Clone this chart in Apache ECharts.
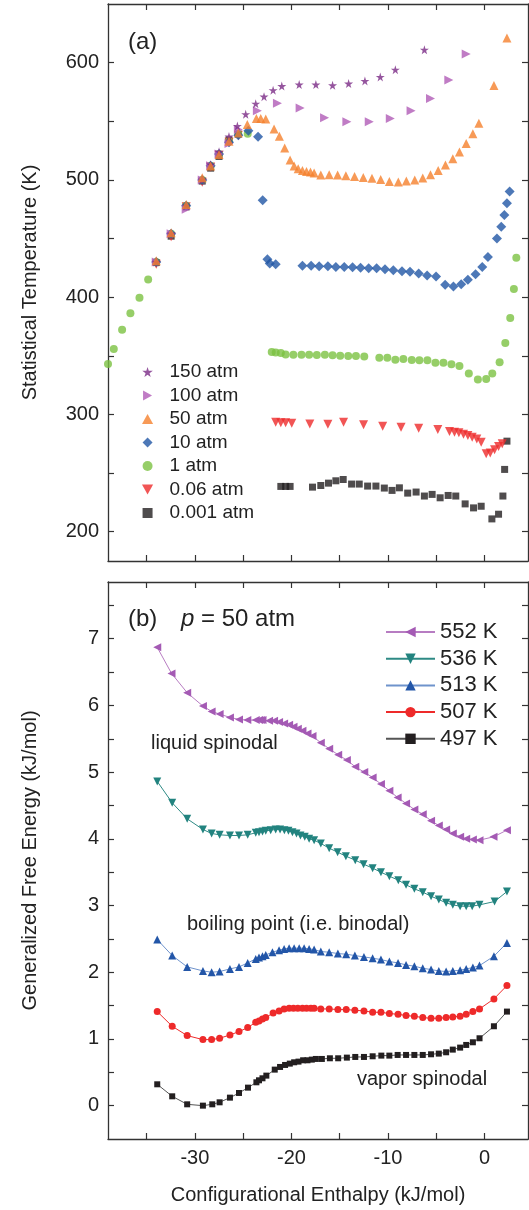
<!DOCTYPE html>
<html>
<head>
<meta charset="utf-8">
<script src="https://cdn.jsdelivr.net/npm/echarts@6.0.0/dist/echarts.min.js"></script>
<style>
  html, body { margin: 0; padding: 0; background: #fff; }
  #chart { width: 529px; height: 1210px; }
</style>
</head>
<body>
<div id="chart"></div>
<script>
// ticks and labels
const xTicks = [-35, -30, -25, -20, -15, -10, -5, 0];
const xLabels = [-30, -20, -10, 0];
const tTicks = [200, 250, 300, 350, 400, 450, 500, 550, 600];
const tLabels = [200, 300, 400, 500, 600];
const gTicks = [0, 0.5, 1, 1.5, 2, 2.5, 3, 3.5, 4, 4.5, 5, 5.5, 6, 6.5, 7, 7.5];
const gLabels = [0, 1, 2, 3, 4, 5, 6, 7];

// (a) statistical temperature, [enthalpy, T]
const p150 = [[-34.0,430],[-32.46,454],[-30.9,478],[-29.24,500],[-28.37,513],[-27.5,524],[-26.47,537],[-25.6,546],[-24.74,556],
  [-23.7,565],[-22.84,571],[-21.9,576.5],[-21.0,580],[-19.2,581.3],[-17.47,581.3],[-15.74,580.7],[-14.08,582.1],[-12.39,584.4],
  [-10.8,587.8],[-9.24,594],[-6.23,611]];
const p100 = [[-34.0,430],[-32.46,454],[-30.9,475],[-29.24,500],[-28.37,512],[-27.5,522],[-26.47,531],[-25.5,543],[-23.53,559],
  [-21.45,565.4],[-19.1,561.4],[-16.57,553],[-14.26,549.5],[-11.94,549.5],[-9.76,552.3],[-7.61,559],[-5.6,569.4],[-3.7,585.2],[-1.9,607.4]];
const p50 = [[-34.0,431],[-32.46,455],[-30.9,479],[-29.24,501.8],[-28.37,511.8],[-27.5,521.7],[-26.47,533],[-25.5,540],[-24.57,547.2],
  [-23.63,552.3],[-23.18,552.3],[-22.66,552],[-21.8,543.5],[-21.25,537.3],[-20.7,527.1],[-20.14,516.9],[-19.72,511.8],[-19.3,509.5],
  [-18.86,508.1],[-18.44,507.2],[-18.03,506.7],[-17.65,505.8],[-16.96,504.1],[-16.09,504.4],[-15.22,504.1],[-14.36,503.5],[-13.46,503],
  [-12.56,502.1],[-11.66,501.3],[-10.76,500.4],[-9.86,498.7],[-8.93,498.2],[-8.1,499],[-7.23,499.9],[-6.4,501.6],[-5.6,504.4],
  [-4.8,508.1],[-4.05,512.6],[-3.29,518],[-2.6,523.7],[-1.9,531.1],[-1.21,539.3],[-0.59,548.4],[0.97,580.4],[2.32,621]];
const p10 = [[-34.0,430],[-32.46,454],[-30.9,478],[-29.24,500],[-28.37,512],[-27.5,522],[-26.47,532],[-25.5,538],[-24.46,542],
  [-23.46,536.7],[-22.98,482.6],[-22.49,432.3],[-22.25,428.6],[-21.63,428.1],[-18.86,426.7],[-17.96,426.7],[-17.13,426.4],[-16.23,426.4],
  [-15.4,425.8],[-14.53,425.8],[-13.67,425.5],[-12.84,425],[-12.0,424.7],[-11.18,424.7],[-10.31,423.8],[-9.45,423],[-8.55,422.1],
  [-7.72,421.6],[-6.82,420.1],[-5.95,418.4],[-5.02,417.6],[-4.08,410.5],[-3.22,409.1],[-2.42,411.1],[-1.73,414.8],[-0.93,419.6],
  [-0.24,425.8],[0.35,434.3],[1.28,450],[1.73,460],[2.05,470],[2.32,480],[2.6,490]];
const p1 = [[-39.0,343],[-38.4,355.8],[-37.54,372.3],[-36.68,386.2],[-35.74,399.6],[-34.84,415],[-34.0,430],[-32.46,454],[-30.9,478],
  [-29.24,500],[-28.37,512],[-27.5,522],[-26.47,533],[-25.5,539],[-24.53,539.3],[-22.04,353.2],[-21.63,352.9],[-21.1,352.3],[-20.6,351.2],
  [-19.8,350.9],[-18.96,350.9],[-18.17,350.9],[-17.37,350.6],[-16.54,350.9],[-15.74,350.4],[-14.95,350.1],[-14.12,349.8],[-13.32,349.8],
  [-12.46,349.5],[-10.9,348.4],[-10.07,348.4],[-9.24,346.7],[-8.41,347.2],[-7.54,346.4],[-6.75,346.1],[-5.92,346.1],[-5.09,344.1],
  [-4.26,344.1],[-3.43,342.7],[-2.6,341.3],[-1.63,335],[-0.69,329.8],[0.17,330.2],[0.8,335],[1.56,344.4],[2.15,360.9],[2.66,382.2],
  [3.04,406.9],[3.29,433.5]];
const p006 = [[-34.0,428],[-32.46,451.6],[-30.9,477],[-29.24,498],[-28.37,511],[-27.5,521],[-26.47,532],[-25.5,538],[-21.63,293.3],
  [-21.1,292.8],[-20.6,292.8],[-19.97,292.5],[-18.1,291.9],[-16.23,291.6],[-14.6,293.3],[-12.53,291.1],[-10.55,289.9],[-8.65,289.1],
  [-6.82,288.2],[-4.84,287.1],[-3.63,285.4],[-3.11,284.8],[-2.66,284.3],[-2.18,283.1],[-1.73,282],[-1.28,280.6],[-0.8,279.1],
  [-0.35,276.3],[0.17,266.4],[0.59,267.2],[1.04,269.8],[1.45,272.6],[1.83,274.9]];
const p0001 = [[-34.0,429.5],[-32.46,452],[-30.9,477],[-29.24,499],[-28.37,510],[-27.5,520],[-26.47,534],[-25.5,539],[-21.1,238.6],
  [-20.6,238.6],[-20.14,238.6],[-17.82,238],[-16.96,239.4],[-16.16,241.4],[-15.4,243.4],[-14.64,244.5],[-13.77,240.6],[-12.98,240.6],
  [-12.11,238.9],[-11.25,238.9],[-10.38,237.2],[-9.58,235.2],[-8.82,237.4],[-7.96,232.9],[-7.09,233.8],[-6.23,230.4],[-5.43,231.8],
  [-4.6,228.9],[-3.77,230.9],[-2.98,230.4],[-2.01,223.7],[-1.14,220.3],[-0.35,221.7],[0.76,210.9],[1.45,214.9],[1.9,230.4],
  [2.08,253.1],[2.32,277.2]];

// (b) generalized free energy at 50 atm, [enthalpy, G]
const k552 = [[-33.9,6.87],[-32.42,6.48],[-30.8,6.19],[-29.17,5.99],[-28.27,5.91],[-27.44,5.87],[-26.37,5.82],[-25.43,5.79],[-24.57,5.78],
  [-23.7,5.78],[-23.36,5.78],[-23.18,5.78],[-23.0,5.78],[-22.32,5.77],[-21.8,5.77],[-21.28,5.75],[-20.76,5.73],[-20.24,5.71],[-19.79,5.68],
  [-19.34,5.65],[-18.86,5.62],[-18.34,5.58],[-17.82,5.54],[-16.96,5.44],[-16.09,5.35],[-15.16,5.26],[-14.26,5.18],[-13.39,5.08],
  [-12.46,5.0],[-11.59,4.92],[-10.73,4.82],[-9.86,4.72],[-9.0,4.62],[-8.13,4.53],[-7.27,4.44],[-6.4,4.37],[-5.54,4.27],[-4.74,4.2],
  [-3.98,4.14],[-3.29,4.08],[-2.53,4.03],[-1.9,4.0],[-1.21,3.99],[-0.52,3.98],[0.93,4.03],[2.32,4.13]];
const k536 = [[-33.9,4.86],[-32.35,4.54],[-30.8,4.3],[-29.17,4.14],[-28.27,4.08],[-27.44,4.06],[-26.37,4.05],[-25.43,4.05],[-24.53,4.06],
  [-23.7,4.09],[-23.36,4.1],[-23.0,4.11],[-22.66,4.12],[-22.15,4.13],[-21.63,4.14],[-21.18,4.14],[-20.73,4.13],[-20.31,4.12],[-19.9,4.1],
  [-19.48,4.08],[-19.07,4.05],[-18.62,4.03],[-18.17,4.0],[-17.65,3.98],[-16.96,3.93],[-16.09,3.86],[-15.22,3.8],[-14.36,3.74],
  [-13.39,3.68],[-12.53,3.62],[-11.59,3.56],[-10.73,3.5],[-9.86,3.44],[-8.93,3.38],[-8.13,3.31],[-7.27,3.25],[-6.4,3.2],[-5.54,3.14],
  [-4.74,3.09],[-3.98,3.04],[-3.29,3.01],[-2.53,2.99],[-1.9,2.99],[-1.28,2.99],[-0.52,3.01],[1.04,3.06],[2.32,3.21]];
const k513 = [[-33.9,2.49],[-32.35,2.25],[-30.8,2.08],[-29.17,2.02],[-28.27,2.0],[-27.44,2.01],[-26.37,2.05],[-25.43,2.08],[-24.53,2.14],
  [-23.7,2.2],[-23.36,2.22],[-23.0,2.24],[-22.66,2.26],[-21.97,2.3],[-21.28,2.33],[-20.76,2.35],[-20.24,2.36],[-19.72,2.36],[-19.2,2.36],
  [-18.69,2.36],[-18.17,2.35],[-17.65,2.34],[-16.96,2.31],[-16.09,2.3],[-15.19,2.28],[-14.33,2.27],[-13.43,2.25],[-12.49,2.23],
  [-11.59,2.21],[-10.73,2.19],[-9.86,2.16],[-8.96,2.14],[-8.13,2.11],[-7.27,2.09],[-6.4,2.06],[-5.54,2.04],[-4.74,2.02],[-3.98,2.01],
  [-3.29,2.02],[-2.53,2.03],[-1.9,2.05],[-1.21,2.07],[-0.52,2.1],[0.97,2.24],[2.32,2.44]];
const k507 = [[-33.9,1.41],[-32.35,1.19],[-30.8,1.05],[-29.17,0.99],[-28.27,0.99],[-27.44,1.01],[-26.37,1.06],[-25.43,1.11],[-24.53,1.17],
  [-23.7,1.25],[-23.36,1.27],[-23.0,1.3],[-22.66,1.32],[-21.9,1.39],[-21.28,1.42],[-20.76,1.45],[-20.24,1.46],[-19.79,1.46],[-19.34,1.46],
  [-18.86,1.46],[-18.44,1.46],[-17.99,1.46],[-17.65,1.46],[-16.96,1.45],[-16.09,1.45],[-15.19,1.44],[-14.33,1.44],[-13.43,1.43],
  [-12.49,1.42],[-11.59,1.4],[-10.73,1.4],[-9.86,1.38],[-8.96,1.37],[-8.13,1.35],[-7.27,1.34],[-6.4,1.32],[-5.54,1.31],[-4.74,1.31],
  [-3.98,1.32],[-3.29,1.33],[-2.53,1.34],[-1.9,1.37],[-1.21,1.41],[-0.52,1.45],[0.97,1.6],[2.32,1.8]];
const k497 = [[-33.9,0.32],[-32.35,0.14],[-30.8,0.02],[-29.17,0.0],[-28.2,0.02],[-27.44,0.05],[-26.37,0.12],[-25.43,0.19],[-24.5,0.27],
  [-23.63,0.35],[-23.36,0.38],[-23.0,0.41],[-22.6,0.45],[-21.73,0.54],[-21.18,0.58],[-20.66,0.61],[-20.17,0.63],[-19.72,0.65],
  [-19.27,0.66],[-18.79,0.68],[-18.34,0.68],[-17.89,0.69],[-17.47,0.7],[-16.85,0.7],[-16.02,0.71],[-15.16,0.71],[-14.26,0.72],
  [-13.39,0.73],[-12.49,0.73],[-11.59,0.74],[-10.69,0.75],[-9.86,0.75],[-9.0,0.76],[-8.13,0.76],[-7.27,0.76],[-6.4,0.76],[-5.54,0.77],
  [-4.74,0.78],[-3.98,0.8],[-3.29,0.84],[-2.53,0.87],[-1.9,0.91],[-1.21,0.95],[-0.52,1.01],[0.97,1.19],[2.32,1.41]];

const FONT = "'Liberation Sans', Arial, Helvetica, sans-serif";
const INK = "#222";
// path symbols keep their aspect in the legend
const STAR = "path://M50,0 L61,35 L98,35 L68,57 L79,91 L50,70 L21,91 L32,57 L2,35 L39,35 Z";
const TRI_U = "path://M5,0 L10,9 L0,9 Z";
const TRI_R = "path://M0,0 L9,5 L0,10 Z";
const TRI_L = "path://M9,0 L0,5 L9,10 Z";
const TRI_D = "path://M0,0 L10,0 L5,9 Z";
const DIAM = "path://M5,0 L10,5 L5,10 L0,5 Z";
const SQ = "path://M0,0 L10,0 L10,10 L0,10 Z";

let chart = echarts.init(document.getElementById("chart"));

function frameAxis(grid, pos, ticks, labels, extra) {
  let ax = {
    gridIndex: grid,
    position: pos,
    type: "value",
    axisLine: { show: true, onZero: false, lineStyle: { color: "#333", width: 1.3 } },
    axisTick: { show: true, inside: true, length: 6, customValues: ticks, lineStyle: { color: "#333", width: 1.2 } },
    axisLabel: labels
      ? { show: true, customValues: labels, color: INK, fontSize: 20, fontFamily: FONT, margin: 9 }
      : { show: false },
    splitLine: { show: false }
  };
  return Object.assign(ax, extra);
}

const xr = { min: -39, max: 4.5 };
const ar = { min: 175, max: 650 };
const br = { min: -0.5, max: 7.85 };

function scat(name, data, symbol, size, color) {
  return {
    name: name, type: "scatter", xAxisIndex: 0, yAxisIndex: 0,
    data: data, symbol: symbol, symbolSize: size,
    itemStyle: { color: color }
  };
}

function curve(name, data, symbol, size, color, lineColor) {
  return {
    name: name, type: "line", xAxisIndex: 2, yAxisIndex: 2,
    data: data, symbol: symbol, symbolSize: size, showAllSymbol: true,
    itemStyle: { color: color },
    lineStyle: { color: lineColor, width: 1 }
  };
}

let option = {
  animation: false,
  grid: [
    { left: 108, top: 4, width: 420, height: 557 },
    { left: 108, top: 582, width: 420, height: 557 }
  ],
  xAxis: [
    frameAxis(0, "bottom", xTicks, null, xr),
    frameAxis(0, "top", xTicks, null, xr),
    frameAxis(1, "bottom", xTicks, xLabels, Object.assign({
      name: "Configurational Enthalpy (kJ/mol)", nameLocation: "middle", nameGap: 46,
      nameTextStyle: { color: INK, fontSize: 20, fontFamily: FONT }
    }, xr)),
    frameAxis(1, "top", xTicks, null, xr)
  ],
  yAxis: [
    frameAxis(0, "left", tTicks, tLabels, Object.assign({
      name: "Statistical Temperature (K)", nameLocation: "middle", nameGap: 68, nameRotate: 90,
      nameTextStyle: { color: INK, fontSize: 20, fontFamily: FONT }
    }, ar)),
    frameAxis(0, "right", tTicks, null, ar),
    frameAxis(1, "left", gTicks, gLabels, Object.assign({
      name: "Generalized Free Energy (kJ/mol)", nameLocation: "middle", nameGap: 68, nameRotate: 90,
      nameTextStyle: { color: INK, fontSize: 20, fontFamily: FONT }
    }, br)),
    frameAxis(1, "right", gTicks, null, br)
  ],
  legend: [
    {
      orient: "vertical", left: 137, top: 357, itemWidth: 34, itemHeight: 10, itemGap: 3.5,
      textStyle: { color: INK, fontSize: 19, lineHeight: 20, fontFamily: FONT },
      data: ["150 atm", "100 atm", "50 atm", "10 atm", "1 atm", "0.06 atm", "0.001 atm"]
    },
    {
      orient: "vertical", left: 380, top: 616, itemWidth: 49, itemHeight: 13, itemGap: 4.7,
      lineStyle: { width: 2 },
      textStyle: { color: INK, fontSize: 22, lineHeight: 22, fontFamily: FONT },
      data: ["552 K", "536 K", "513 K", "507 K", "497 K"]
    }
  ],
  graphic: [
    { type: "text", left: 128, top: 30, style: { text: "(a)", fill: INK, font: "24px " + FONT } },
    { type: "text", left: 128, top: 607, style: { text: "(b)", fill: INK, font: "24px " + FONT } },
    {
      type: "text", left: 181, top: 607,
      style: {
        text: "{i|p} = 50 atm", fill: INK, font: "24px " + FONT,
        rich: { i: { fontStyle: "italic", fontSize: 24, fontFamily: FONT, fill: INK } }
      }
    },
    { type: "text", left: 151, top: 733, style: { text: "liquid spinodal", fill: INK, font: "20px " + FONT } },
    { type: "text", left: 187, top: 914, style: { text: "boiling point (i.e. binodal)", fill: INK, font: "20px " + FONT } },
    { type: "text", left: 357, top: 1069, style: { text: "vapor spinodal", fill: INK, font: "20px " + FONT } }
  ],
  series: [
    scat("0.001 atm", p0001, SQ, 7, "#231F20"),
    scat("0.06 atm", p006, TRI_D, 9, "#EE2A2A"),
    scat("1 atm", p1, "circle", 8, "#7CC242"),
    scat("10 atm", p10, DIAM, 10, "#2156A5"),
    scat("100 atm", p100, TRI_R, 9, "#B05BB7"),
    scat("150 atm", p150, STAR, 9, "#7A2A86"),
    scat("50 atm", p50, TRI_U, 9, "#F5812D"),
    curve("552 K", k552, TRI_L, 8, "#A45AB4", "#B77CC2"),
    curve("536 K", k536, TRI_D, 8, "#22837F", "#2E8A85"),
    curve("513 K", k513, TRI_U, 8, "#2356A8", "#6F93CC"),
    curve("507 K", k507, "circle", 7, "#EE2A2A", "#EE2A2A"),
    curve("497 K", k497, SQ, 6, "#231F20", "#555555")
  ]
};

chart.setOption(option);
</script>
</body>
</html>
